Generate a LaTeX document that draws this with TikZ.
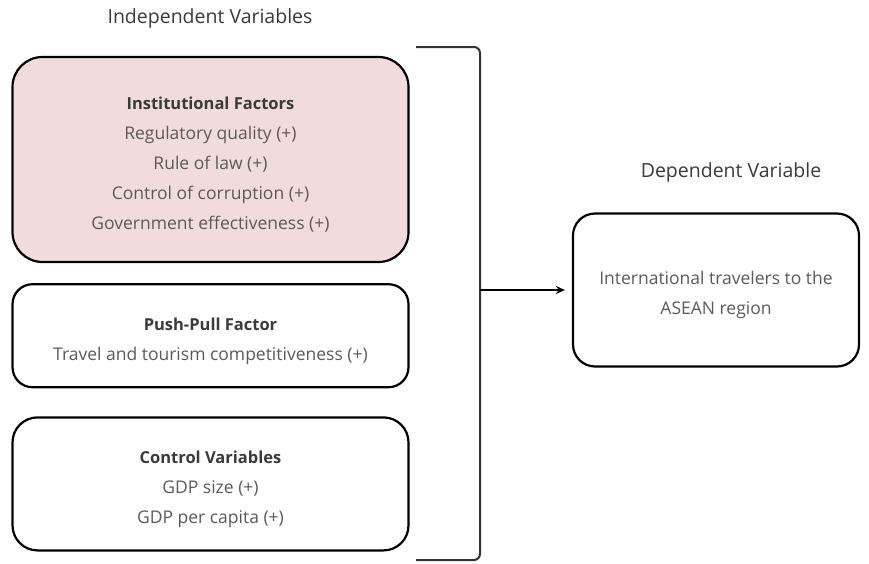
\documentclass[tikz,border=0pt]{standalone}
\usepackage{fontspec}
\setmainfont{Open Sans}
\usetikzlibrary{positioning,arrows.meta}
\definecolor{pinkfill}{HTML}{F2DCDB}
\definecolor{bodygrey}{HTML}{5A5A5A}
\definecolor{headgrey}{HTML}{3A3A3A}
\newcommand{\boxhead}[1]{\rule{0pt}{23pt}\textcolor{headgrey}{\fontsize{16.5}{30}\selectfont\textbf{#1}}}

\begin{document}
\begin{tikzpicture}[x=1pt,y=-1pt,
    varbox/.style={draw=black, line width=2.2pt, align=center, inner sep=0pt,
    minimum width=396pt, text=bodygrey, font=\fontsize{17.5}{30}\selectfont},
    title/.style={text=headgrey, font=\fontsize{19.5}{22}\selectfont},
    >={Stealth[length=9pt,width=8pt]}
]
  \useasboundingbox (0,0) rectangle (869,563);

  \node[title] (indtitle) at (210,18) {Independent Variables};
  \node[title] (deptitle) at (731,172) {Dependent Variable};

  \node[varbox, fill=pinkfill, minimum height=205pt, rounded corners=30pt] (inst) at (210.5,159.5)
    {\boxhead{Institutional Factors}\\ Regulatory quality (+)\\ Rule of law (+)\\
     Control of corruption (+)\\ Government effectiveness (+)};
  \node[varbox, minimum height=103pt, rounded corners=20pt, below=20pt of inst] (push)
    {\boxhead{Push-Pull Factor}\\ Travel and tourism competitiveness (+)};
  \node[varbox, minimum height=133pt, rounded corners=25pt, below=28pt of push] (ctrl)
    {\boxhead{Control Variables}\\ GDP size (+)\\ GDP per capita (+)};

  \node[varbox, minimum width=286pt, minimum height=153pt, rounded corners=22pt] (travel) at (716,290)
    {\rule{0pt}{23pt}International travelers to the\\ ASEAN region};

  \coordinate (bracetop) at (416,47);
  \coordinate (bracebot) at (416,560);
  \coordinate (bracemid) at (480,290);
  \draw[line width=2pt, draw=black!80, rounded corners=6pt]
    (bracetop) -- (bracetop -| bracemid) -- (bracebot -| bracemid) -- (bracebot);
  \draw[->, line width=1.8pt, shorten >=7pt] (bracemid) -- (travel.west);
\end{tikzpicture}
\end{document}
